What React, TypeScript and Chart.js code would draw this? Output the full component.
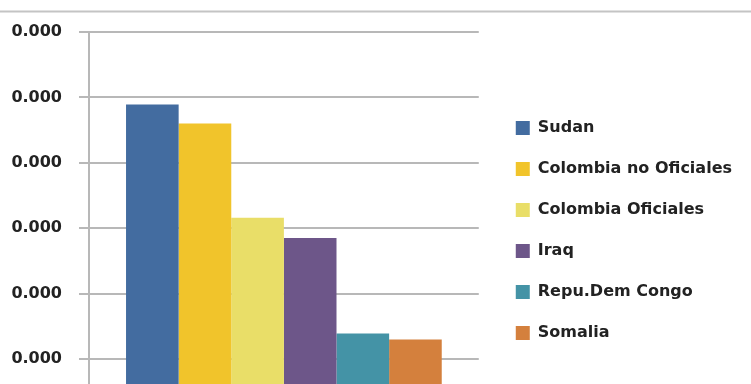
import React, { useEffect, useRef } from "react";
import { Chart, registerables } from "chart.js";

Chart.register(...registerables);

const categories = [""];
const seriesNames = [
  "Sudan",
  "Colombia no Oficiales",
  "Colombia Oficiales",
  "Iraq",
  "Repu.Dem Congo",
  "Somalia",
];
const seriesValues = [4.89, 4.6, 3.16, 2.85, 1.39, 1.3];
const seriesColors = ["#436ca0", "#f1c42b", "#e9de68", "#6d5689", "#4493a6", "#d4803d"];
const tickLabels = ["0.000", "0.000", "0.000", "0.000", "0.000", "0.000", "0.000"];

const FONT = "'DejaVu Sans', sans-serif";

const topRule = {
  id: "topRule",
  beforeDraw(chart: any) {
    const ctx = chart.ctx;
    ctx.save();
    ctx.strokeStyle = "#c4c4c4";
    ctx.lineWidth = 2;
    ctx.beginPath();
    ctx.moveTo(0, 11.5);
    ctx.lineTo(chart.width, 11.5);
    ctx.stroke();
    ctx.restore();
  },
};

export default function App() {
  const ref = useRef<HTMLCanvasElement | null>(null);
  useEffect(() => {
    if (!ref.current) return;
    const chart = new Chart(ref.current, {
      type: "bar",
      data: {
        labels: categories,
        datasets: seriesNames.map((name, i) => ({
          label: name,
          data: [seriesValues[i]],
          backgroundColor: seriesColors[i],
          borderWidth: 0,
          barPercentage: 1,
          categoryPercentage: 0.81,
          xAxisID: "x",
          yAxisID: "y",
        })),
      },
      options: {
        responsive: false,
        animation: false,
        devicePixelRatio: 1,
        layout: { padding: { top: 32, left: 0, right: 9, bottom: 0 } },
        plugins: {
          tooltip: { enabled: false },
          legend: {
            position: "right",
            align: "start",
            maxWidth: 300,
            title: {
              display: true,
              text: "",
              font: { size: 16, lineHeight: 1.2 },
              padding: { top: 0, bottom: 43.8 },
            },
            labels: {
              boxWidth: 14,
              boxHeight: 14,
              padding: 25,
              color: "#222",
              font: { family: FONT, size: 16, weight: "bold" },
            },
          },
        },
        scales: {
          x: {
            display: false,
          },
          gap: {
            type: "linear",
            position: "right",
            display: true,
            weight: 0,
            grid: { display: false },
            border: { display: false },
            ticks: { display: false },
            afterFit: (s: any) => {
              s.width = 12;
            },
          },
          y: {
            min: 0,
            max: 6,
            afterFit: (s: any) => {
              s.width = 89;
            },
            ticks: {
              stepSize: 1,
              padding: 17,
              color: "#222",
              font: { family: FONT, size: 16, weight: "bold" },
              callback: (_v: any, i: number) => tickLabels[i],
            },
            grid: { color: "#b8b8b8", lineWidth: 2, tickLength: 10 },
            border: { color: "#b8b8b8", width: 2 },
          },
        },
      },
      plugins: [topRule],
    });
    return () => chart.destroy();
  }, []);
  return (
    <div
      style={{
        position: "fixed",
        left: 0,
        top: 0,
        width: 751,
        height: 384,
        overflow: "hidden",
        background: "#fff",
      }}
    >
      <canvas ref={ref} width={751} height={451} />
    </div>
  );
}
